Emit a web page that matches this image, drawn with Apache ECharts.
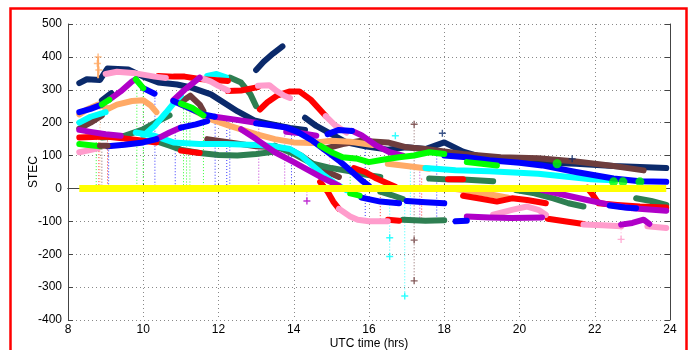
<!DOCTYPE html>
<html>
<head>
<meta charset="utf-8">
<script src="https://cdn.jsdelivr.net/npm/echarts@6/dist/echarts.min.js"></script>
<style>
  html, body { margin: 0; padding: 0; background: #fff; overflow: hidden; }
  #chart { width: 689px; height: 350px; }
</style>
</head>
<body>
<div id="chart"></div>
<script>
// axis ticks
const xTicks = [8, 10, 12, 14, 16, 18, 20, 22, 24]
const yTicks = [-400, -300, -200, -100, 0, 100, 200, 300, 400, 500]

// STEC tracks, [UTC hour, STEC]
const navyA = [[8.3,320],[8.5,332],[8.85,330],[9.05,365],[9.6,362],[10.0,340],[10.4,322],[10.9,316],[11.3,306],[11.8,286],[12.5,235],[12.95,207],[13.3,198],[13.9,184],[14.3,178]]
const navyB = [[13.0,360],[13.2,385],[13.45,410],[13.7,432]]
const navyC = [[8.9,268],[9.15,290]]
const navyD = [[14.3,215],[14.6,190],[15.0,165],[15.4,140],[15.9,128],[16.5,118],[17.0,125],[17.5,120],[18.0,140],[18.5,112],[19.0,95],[19.5,88],[20.5,80],[21.5,75],[22.5,68],[23.9,62]]

const blueA = [[8.3,232],[8.6,242],[8.9,255]]
const blueB = [[10.0,305],[10.3,288]]
const blueLow = [[9.06,128],[9.5,133],[10.0,140],[10.35,150]]
const blueLow2 = [[11.0,185],[11.4,195],[11.7,205]]
const blueD1 = [[10.8,266],[11.2,245],[11.6,225],[11.9,218]]
const blueD2 = [[13.0,198],[13.4,192],[13.8,185],[14.1,172],[14.5,145],[14.85,115],[15.2,85],[15.5,55],[15.8,25],[16.0,8]]
const blueHump = [[14.9,165],[15.2,178],[15.55,175]]
const blueRight = [[18.0,100],[18.6,95],[19.2,86],[20.0,78],[20.6,70],[21.5,50],[22.5,30],[23.2,22],[23.9,20]]
const blueNeg1 = [[15.8,-28],[16.3,-40],[16.8,-45]]
const blueNeg2 = [[17.0,-38],[17.5,-42],[18.0,-45]]
const blueNeg3 = [[22.4,-52],[22.8,-58],[23.1,-60]]
const blueBottom = [[18.3,-100],[18.6,-98]]

const redLow = [[8.3,155],[9.0,158],[9.5,152],[10.0,145],[10.35,140]]
const redSmall = [[11.0,115],[11.5,108]]
const redTop = [[10.4,342],[10.8,340],[11.1,340],[11.5,333],[12.25,327]]
const redB = [[12.25,296],[12.6,298],[13.05,308]]
const redC = [[13.1,240],[13.3,262],[13.55,282],[13.9,295],[14.15,295],[14.45,270],[14.85,220]]
const redMid = [[15.6,62],[15.9,50],[16.2,30],[16.5,15],[16.7,5]]
const redDesc = [[14.7,20],[14.9,-10],[15.05,-40],[15.2,-62]]
const redBot1 = [[16.5,-95],[16.8,-98]]
const redBot2 = [[20.75,-92],[21.2,-100],[21.7,-108]]
const redR1 = [[18.5,-22],[18.9,-30],[19.4,-40],[19.8,-30],[20.2,-35],[20.7,-45]]
const redR2 = [[21.8,2],[21.95,-20],[22.1,-45],[22.6,-50],[23.2,-55],[23.9,-58]]
const redR3 = [[18.1,28],[18.5,28]]

const pinkLowL = [[8.3,110],[8.8,122]]
const pinkTop = [[9.0,348],[9.3,355],[9.8,350],[10.3,340],[10.6,336]]
const pinkB = [[11.5,337],[11.8,325],[12.0,312],[12.25,298]]
const pinkC = [[13.05,312],[13.35,314],[13.55,296],[13.75,282],[13.9,275]]
const pinkD = [[14.85,220],[15.1,192],[15.4,170]]
const pinkBottom = [[15.2,-62],[15.5,-85],[15.7,-95],[16.0,-100],[16.5,-100]]
const pinkBump = [[19.3,-80],[19.8,-65],[20.2,-55],[20.5,-65],[20.7,-80]]
const pinkRight1 = [[21.7,-110],[22.2,-112],[22.7,-115]]
const pinkRight2 = [[23.4,-115],[23.9,-120]]

const magentaA0 = [[8.3,178],[8.6,172],[9.0,165],[9.4,160]]
const magentaA = [[9.1,270],[9.4,295],[9.7,325],[9.8,332]]
const magentaB = [[10.8,268],[11.1,300],[11.5,337]]
const magentaLow = [[10.35,150],[10.7,170],[11.0,185]]
const magentaD = [[11.9,218],[12.4,210],[13.0,200]]
const magentaDesc = [[12.6,180],[13.0,150],[13.5,110],[14.0,80],[14.4,55],[14.8,30],[15.2,8]]
const magentaMid = [[13.8,172],[14.2,168],[14.6,160]]
const magentaHump = [[15.55,175],[15.8,162],[16.2,130],[16.55,110],[16.9,100]]
const magentaRight = [[20.6,-5],[21.2,-20],[21.8,-35],[22.4,-50],[23.0,-60],[23.9,-68]]
const magentaBottom = [[18.6,-85],[19.2,-88],[19.8,-90],[20.6,-88]]
const magentaBottom2 = [[22.7,-110],[23.0,-105],[23.3,-95],[23.45,-108]]

const orangeA = [[8.3,225],[8.5,240],[8.8,255],[9.07,242],[9.3,255],[9.7,266],[10.0,268],[10.2,252],[10.35,232]]
const orangeB = [[11.0,255],[11.3,240],[11.8,210],[12.3,190],[13.0,165],[13.5,150],[14.0,140],[14.5,138],[15.0,145],[15.5,142],[16.1,132]]
const orangeC = [[16.5,75],[17.0,68],[17.6,60]]
const orangeD = [[18.3,-2],[18.8,-10],[19.3,-20],[19.7,-28]]

const cyanA = [[8.3,200],[8.6,218],[9.0,232]]
const cyanB = [[10.0,160],[10.3,190],[10.6,230],[10.85,265],[11.0,282]]
const cyanC = [[11.7,342],[11.95,348],[12.2,338]]
const cyanD = [[9.8,170],[10.3,160],[10.8,140],[11.5,135],[12.2,135],[13.0,132],[13.5,128],[13.9,120],[14.2,100],[14.5,70],[14.8,40],[15.1,15],[15.4,-5]]
const cyanE = [[17.5,62],[18.3,55],[19.2,52],[20.5,45],[21.9,28],[22.5,25]]

const brownA = [[8.3,182],[8.6,200],[8.9,222]]
const brownBlob = [[8.85,130],[9.05,130]]
const brownB = [[11.0,262],[11.25,282],[11.5,255],[11.6,235]]
const brownC = [[11.7,150],[12.3,140],[13.0,128],[13.5,125],[13.9,118],[14.2,100],[14.5,75],[14.9,50],[15.2,35]]
const brownD = [[14.8,120],[15.3,135],[15.8,145],[16.5,140],[17.0,125],[17.5,120],[18.5,105],[19.5,95],[20.5,92],[21.5,82],[22.5,68],[23.3,55]]

const dkgA = [[8.9,155],[9.5,160],[10.0,180],[10.4,205],[10.7,222]]
const dkgB = [[10.3,145],[10.7,130],[11.0,118],[11.5,108],[12.0,102],[12.5,100],[13.0,105],[13.5,112]]
const dkgTop = [[12.3,337],[12.6,322],[12.85,286],[13.0,250]]
const dkgMid = [[13.5,130],[14.0,105],[14.5,75],[15.0,62],[15.5,52],[15.9,42],[16.3,35]]
const dkgNeg = [[16.3,-10],[16.6,-20],[16.9,-32]]
const dkgRight = [[17.6,30],[18.0,28],[18.5,27],[19.3,22]]
const dkgRight2 = [[19.9,-5],[20.4,-15],[20.9,-30],[21.3,-45],[21.7,-55]]
const dkgRight3 = [[23.1,-30],[23.5,-38],[23.9,-50]]
const dkgBottom = [[16.9,-95],[17.5,-98],[18.0,-97]]

const greenLow = [[8.3,135],[8.85,128]]
const greenA = [[8.9,255],[9.1,270]]
const greenB = [[9.8,332],[10.0,305]]
const greenC = [[11.0,258],[11.3,245],[11.6,222]]
const greenMid = [[14.7,130],[15.0,110],[15.3,95],[15.7,90],[16.0,80],[16.4,88],[16.8,95],[17.2,100],[17.6,110],[18.0,105]]
const greenRight = [[18.6,80],[19.0,75],[19.4,70]]
const greenNeg = [[15.5,-15],[15.75,-22]]
const greenDots = [[21.0,75],[22.5,20],[22.75,20],[23.2,20]]

const zeroLine = [[8.3,0],[23.9,0]]
const orangeSpike = [[8.8,335],[8.8,400]]

// dotted connectors: [hour, from, to]
const dropsGreen = [[8.75,150,5],[9.83,300,5],[10.0,290,5],[11.07,250,5],[11.15,240,5],[11.24,240,5],[11.6,220,5],[15.5,90,-15]]
const dropsBlue = [[9.08,125,5],[10.31,285,5],[10.85,180,5],[11.91,215,5],[12.22,205,5],[12.3,200,5],[13.94,180,5],[15.9,120,-100],[17.8,100,-100]]
const dropsRed = [[8.82,150,5],[9.05,155,5],[16.3,10,-100],[17.4,30,-95]]
const dropsOrange = [[8.85,250,5]]
const dropsBrown = [[8.9,130,5],[17.2,195,-285]]
const dropsMagenta = [[13.07,200,5],[13.76,170,5],[14.35,0,-38],[17.35,60,-100]]
const dropsCyan = [[16.55,-40,-210],[16.95,-30,-330],[17.1,60,-100]]
const dropsPink = [[22.7,-115,-155],[14.95,150,20]]

// stray points
const plusCyan = [[16.55,-150],[16.55,-207],[16.95,-327],[16.7,160]]
const plusBrown = [[17.2,195],[17.2,-157],[17.2,-281]]
const plusMagenta = [[14.35,-38]]
const plusPink = [[22.7,-155]]
const plusNavy = [[17.95,168],[21.4,90]]
const plusOrange = [[8.8,400],[8.78,380],[8.82,360]]

const C = {
  navy: '#0b2a6b', blue: '#0000ff', red: '#ff0000', green: '#00ff00',
  dkgreen: '#2e7f52', cyan: '#00ffff', magenta: '#b000c8', pink: '#ff9ccc',
  orange: '#ffaa66', brown: '#6e3d3d', yellow: '#ffff00'
}

const tracks = [
  [navyA, C.navy], [navyB, C.navy], [navyC, C.navy], [navyD, C.navy],
  [brownA, C.brown], [brownB, C.brown], [brownC, C.brown], [brownD, C.brown],
  [dkgA, C.dkgreen], [dkgB, C.dkgreen], [dkgTop, C.dkgreen], [dkgMid, C.dkgreen], [dkgNeg, C.dkgreen],
  [dkgRight, C.dkgreen], [dkgRight2, C.dkgreen], [dkgRight3, C.dkgreen], [dkgBottom, C.dkgreen],
  [orangeA, C.orange], [orangeB, C.orange], [orangeC, C.orange], [orangeD, C.orange],
  [cyanA, C.cyan], [cyanB, C.cyan], [cyanC, C.cyan], [cyanD, C.cyan], [cyanE, C.cyan],
  [redLow, C.red], [redSmall, C.red], [redTop, C.red], [redB, C.red], [redC, C.red], [redMid, C.red],
  [redDesc, C.red], [redBot1, C.red], [redBot2, C.red], [redR1, C.red], [redR2, C.red], [redR3, C.red],
  [pinkLowL, C.pink], [pinkTop, C.pink], [pinkB, C.pink], [pinkC, C.pink], [pinkD, C.pink],
  [pinkBottom, C.pink], [pinkBump, C.pink], [pinkRight1, C.pink], [pinkRight2, C.pink],
  [magentaA0, C.magenta], [magentaA, C.magenta], [magentaB, C.magenta], [magentaLow, C.magenta],
  [magentaD, C.magenta], [magentaDesc, C.magenta], [magentaMid, C.magenta], [magentaHump, C.magenta],
  [magentaRight, C.magenta], [magentaBottom, C.magenta], [magentaBottom2, C.magenta],
  [blueA, C.blue], [blueB, C.blue], [blueLow, C.blue], [blueLow2, C.blue], [blueD1, C.blue], [blueD2, C.blue],
  [blueHump, C.blue], [blueRight, C.blue], [blueNeg1, C.blue], [blueNeg2, C.blue], [blueNeg3, C.blue], [blueBottom, C.blue],
  [greenLow, C.green], [greenA, C.green], [greenB, C.green], [greenC, C.green], [greenMid, C.green],
  [greenRight, C.green], [greenNeg, C.green], [brownBlob, C.brown]
]

const drops = [
  [dropsGreen, C.green], [dropsBlue, C.blue], [dropsRed, C.red], [dropsOrange, C.orange],
  [dropsBrown, C.brown], [dropsMagenta, C.magenta], [dropsCyan, C.cyan], [dropsPink, C.pink]
]

const pluses = [
  [plusCyan, C.cyan], [plusBrown, C.brown], [plusMagenta, C.magenta], [plusPink, C.pink],
  [plusNavy, C.navy], [plusOrange, C.orange]
]

const PLUS = 'path://M4,0h2v4h4v2h-4v4h-2v-4h-4v-2h4z'

let series = []

drops.forEach(([list, color]) => {
  let data = []
  list.forEach(d => {
    data.push([d[0], d[1]], [d[0], d[2]], [d[0], '-'])
  })
  series.push({
    type: 'line', data: data, symbol: 'none', silent: true, z: 1,
    lineStyle: { color: color, width: 1, type: [1, 2], opacity: 0.8 }
  })
})

tracks.forEach(([data, color]) => {
  series.push({
    type: 'line', data: data, symbol: 'none', silent: true, z: 2,
    lineStyle: { color: color, width: 6, cap: 'round', join: 'round' }
  })
})

series.push({
  type: 'line', data: orangeSpike, symbol: 'none', silent: true, z: 2,
  lineStyle: { color: C.orange, width: 2 }
})

series.push({
  type: 'scatter', data: greenDots, symbol: 'circle', symbolSize: 9, silent: true, z: 3,
  itemStyle: { color: C.green }
})

pluses.forEach(([data, color]) => {
  series.push({
    type: 'scatter', data: data, symbol: PLUS, symbolSize: 7, silent: true, z: 3,
    itemStyle: { color: color }
  })
})

// zero reference on top
series.push({
  type: 'line', data: zeroLine, symbol: 'none', silent: true, z: 4,
  lineStyle: { color: C.yellow, width: 7 }
})

const chart = echarts.init(document.getElementById('chart'))

const txt = { color: '#000', fontFamily: 'Liberation Sans, Arial, sans-serif', fontSize: 12 }
const frame = { show: true, lineStyle: { color: '#444', width: 1 } }
const inTick = { show: true, inside: true, length: 5, lineStyle: { color: '#444' } }
const dots = { show: true, lineStyle: { color: '#888', width: 1, type: [1, 3] } }

chart.setOption({
  animation: false,
  backgroundColor: '#fff',
  grid: { left: 68, top: 24, width: 602, height: 296, outerBoundsMode: 'none', containLabel: false },
  graphic: [{
    type: 'polyline', z: 100,
    shape: { points: [[10.5, 352], [10.5, 8.5], [686.5, 8.5], [686.5, 352]] },
    style: { fill: 'none', stroke: '#ff0000', lineWidth: 2.5 }
  }],
  xAxis: [{
    type: 'value', min: xTicks[0], max: xTicks[xTicks.length - 1], interval: 2,
    name: 'UTC time (hrs)', nameLocation: 'middle', nameGap: 18, nameMoveOverlap: false,
    nameTextStyle: txt,
    axisLine: frame, axisTick: inTick,
    axisLabel: Object.assign({ margin: 4 }, txt),
    splitLine: dots
  }, {
    type: 'value', position: 'top', min: xTicks[0], max: xTicks[xTicks.length - 1], interval: 2,
    axisLine: frame, axisTick: inTick,
    axisLabel: { show: false }, splitLine: { show: false }
  }],
  yAxis: [{
    type: 'value', min: yTicks[0], max: yTicks[yTicks.length - 1], interval: 100,
    name: 'STEC', nameLocation: 'middle', nameGap: 28, nameMoveOverlap: false,
    nameTextStyle: txt,
    axisLine: frame, axisTick: inTick,
    axisLabel: Object.assign({ margin: 6 }, txt),
    splitLine: dots
  }, {
    type: 'value', position: 'right', min: yTicks[0], max: yTicks[yTicks.length - 1], interval: 100,
    axisLine: frame, axisTick: inTick,
    axisLabel: { show: false }, splitLine: { show: false }
  }],
  series: series
})
</script>
</body>
</html>
